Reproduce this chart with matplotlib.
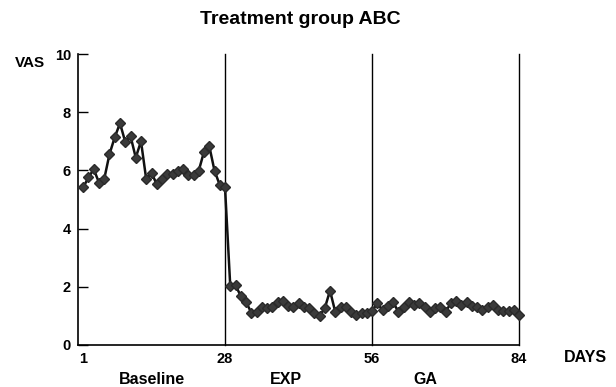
import numpy as np
import matplotlib.pyplot as plt

plt.rcParams['font.family'] = ['Liberation Sans', 'DejaVu Sans']
plt.rcParams['font.weight'] = 'bold'

# VAS scores per day
baseline = [5.42, 5.76, 6.04, 5.58, 5.71, 6.56, 7.14, 7.62, 6.98, 7.18,
            6.44, 7.00, 5.69, 5.92, 5.52, 5.69, 5.88, 5.88, 5.99, 6.06,
            5.83, 5.83, 5.99, 6.64, 6.84, 5.99, 5.50, 5.42]
exp_phase = [2.03, 2.06, 1.68, 1.49, 1.11, 1.13, 1.32, 1.26, 1.32, 1.49,
             1.52, 1.34, 1.32, 1.45, 1.32, 1.26, 1.11, 1.00, 1.26, 1.87,
             1.14, 1.32, 1.32, 1.14, 1.03, 1.11, 1.11, 1.16]
ga_phase = [1.43, 1.20, 1.34, 1.49, 1.14, 1.32, 1.49, 1.37, 1.43, 1.30,
            1.14, 1.26, 1.30, 1.14, 1.43, 1.52, 1.37, 1.49, 1.34, 1.32,
            1.20, 1.30, 1.37, 1.20, 1.18, 1.18, 1.20, 1.03]

vas = baseline + exp_phase + ga_phase
days = np.arange(1, len(vas) + 1)

day_ticks = [1, 28, 56, 84]
phase_lines = [28, 56, 84]
phase_names = ["Baseline", "EXP", "GA"]
phase_pos = [152, 286, 425]  # label centres in pixels

fig = plt.figure(figsize=(6.16, 3.87), dpi=100)
ax = fig.add_axes([78 / 616, 1 - 345 / 387, (519 - 78) / 616, (345 - 54) / 387])

ax.plot(days, vas, color='#111111', lw=1.8, marker='D', markersize=5.5,
        markerfacecolor='#3a3a3a', markeredgecolor='#2a2a2a', zorder=3,
        clip_on=False)

for d in phase_lines:
    ax.axvline(d, color='black', lw=1.0, zorder=2, clip_on=False)

ax.set_xlim(0, 84)
ax.set_ylim(0, 10)
ax.set_yticks([0, 2, 4, 6, 8, 10])
ax.set_xticks(day_ticks)
ax.tick_params(axis='y', direction='in', length=7, width=1, pad=5, labelsize=10.5)
ax.tick_params(axis='x', length=0, pad=5, labelsize=10.5)
for s in ['top', 'right']:
    ax.spines[s].set_visible(False)
ax.spines['left'].set_linewidth(1.2)
ax.spines['bottom'].set_linewidth(1.2)

fig.text(0.5 * (200 + 401) / 616, 1 - 20 / 387, "Treatment group ABC",
         ha='center', va='center', fontsize=14, fontweight='bold')
fig.text(30 / 616, 1 - 63 / 387, "VAS", ha='center', va='center',
         fontsize=11, fontweight='bold')
fig.text(585 / 616, 1 - 357 / 387, "DAYS", ha='center', va='center',
         fontsize=11.5, fontweight='bold')
for name, px in zip(phase_names, phase_pos):
    fig.text(px / 616, 1 - 379 / 387, name, ha='center', va='center',
             fontsize=11.5, fontweight='bold')

plt.savefig("out.png", dpi=100)
